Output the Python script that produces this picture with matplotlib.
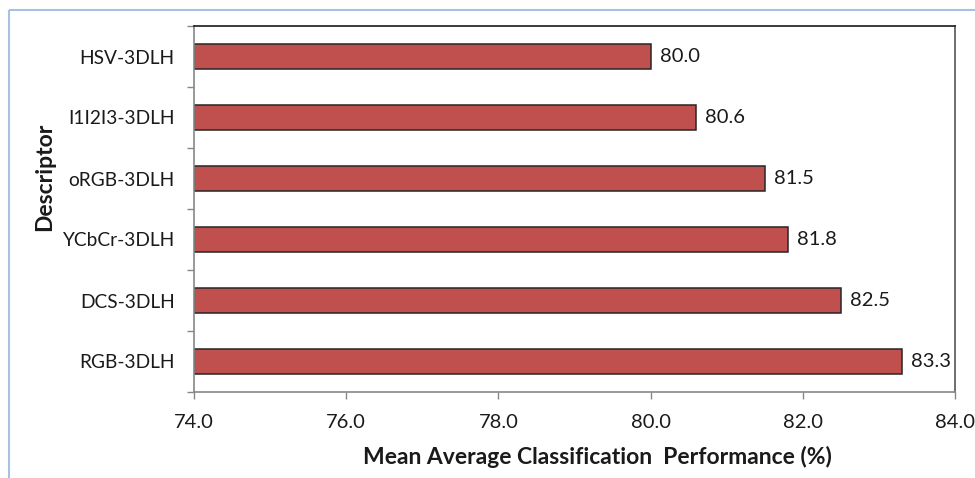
import matplotlib
matplotlib.use("Agg")
import matplotlib.pyplot as plt
from matplotlib.patches import Rectangle

descriptors = ["HSV-3DLH", "I1I2I3-3DLH", "oRGB-3DLH", "YCbCr-3DLH", "DCS-3DLH", "RGB-3DLH"]
performance = [80.0, 80.6, 81.5, 81.8, 82.5, 83.3]
x_ticks = [74.0, 76.0, 78.0, 80.0, 82.0, 84.0]

plt.rcParams["font.family"] = ["Lato", "DejaVu Sans"]

W, H = 975, 478
fig = plt.figure(figsize=(W / 100, H / 100), dpi=100)

# background layer holding the outer chart border
bg = fig.add_axes([0, 0, 1, 1], zorder=-1)
bg.set_xlim(0, W)
bg.set_ylim(H, 0)
bg.axis("off")
bg.add_patch(Rectangle((8.5, 9.5), W + 20, H + 20, fill=False, edgecolor="#A9C1E0", linewidth=1.5))

left, right, top, bottom = 194, 955, 26, 392
ax = fig.add_axes([left / W, 1 - bottom / H, (right - left) / W, (bottom - top) / H])

ypos = list(range(len(descriptors)))
ax.barh(ypos, [v - x_ticks[0] for v in performance], left=x_ticks[0], height=0.41,
        color="#C0504D", edgecolor="#262626", linewidth=1.1)

for y, v in zip(ypos, performance):
    ax.text(v + 0.12, y, f"{v:.1f}", va="center", ha="left", fontsize=14.5, color="#1a1a1a")

ax.set_xlim(x_ticks[0], x_ticks[-1])
ax.set_ylim(len(descriptors) - 0.5, -0.5)
ax.set_xticks(x_ticks)
ax.set_xticklabels([f"{t:.1f}" for t in x_ticks], fontsize=14.5, color="#1a1a1a")
ax.set_yticks([i + 0.5 for i in range(-1, len(descriptors))], minor=False)
ax.set_yticklabels([])
ax.set_yticks(ypos, minor=True)
ax.set_yticklabels(descriptors, minor=True, fontsize=13.8, color="#1a1a1a")
ax.tick_params(axis="y", which="minor", length=0, pad=14)
ax.tick_params(axis="y", which="major", direction="out", length=5, color="#888888", width=1)
ax.tick_params(axis="x", direction="out", length=5, color="#888888", width=1, pad=10.5)

ax.spines["left"].set_color("#888888")
ax.spines["bottom"].set_color("#888888")
ax.spines["top"].set_color("#1a1a1a")
ax.spines["right"].set_color("#555555")
for s in ax.spines.values():
    s.set_linewidth(1.2)

fig.text(597 / W, 1 - 457 / H, "Mean Average Classification  Performance (%)", fontsize=16.5,
         fontweight="bold", color="#1a1a1a", ha="center", va="center")
fig.text(45 / W, 1 - 177 / H, "Descriptor", fontsize=16.5, fontweight="bold", color="#1a1a1a",
         ha="center", va="center", rotation=90)

fig.savefig("out.png", dpi=100)
